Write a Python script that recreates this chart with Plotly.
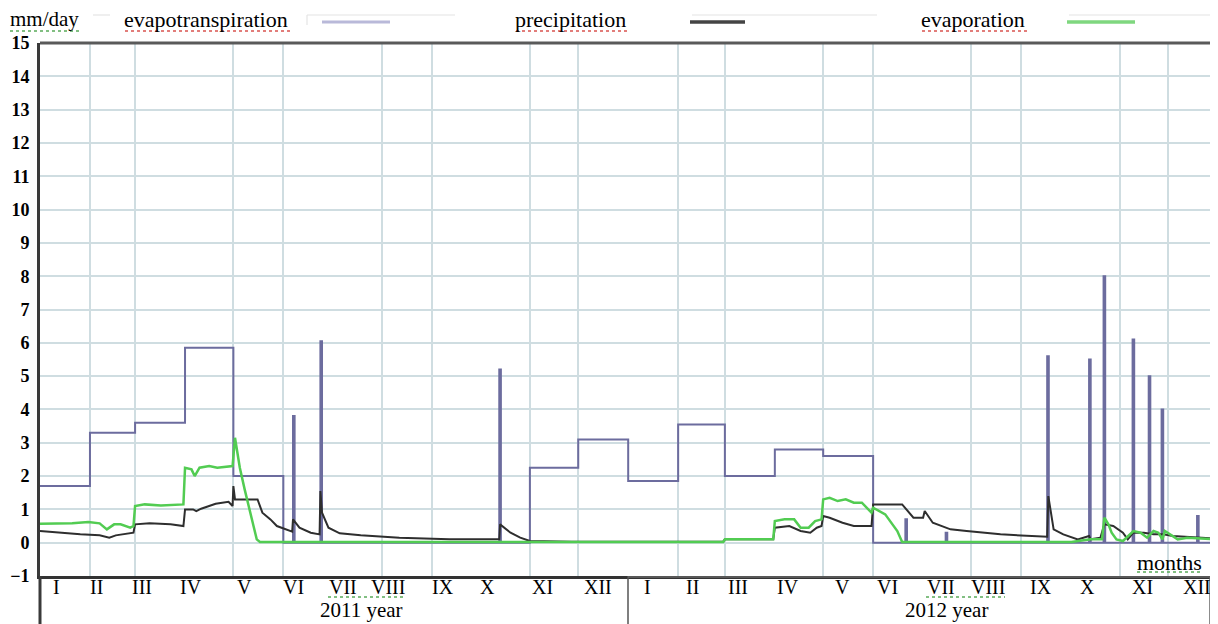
import pandas as pd
import plotly.graph_objects as go

BASE = pd.Timestamp("2011-01-01")

# ---------------- data ----------------
# Evapotranspiration: monthly step values, Jan 2011 .. Dec 2012 (mm/day)
et_monthly = [1.7, 3.3, 3.6, 5.85, 2.0, 0, 0, 0, 0, 0, 2.25, 3.1,
              1.85, 3.55, 2.0, 2.8, 2.6, 0, 0, 0, 0, 0, 0, 0]
# short evapotranspiration events (spikes)
et_spike_dates = ["2011-06-07", "2011-06-24", "2011-10-13", "2012-06-21",
                  "2012-07-16", "2012-09-17", "2012-10-13", "2012-10-22",
                  "2012-11-09", "2012-11-19", "2012-11-27", "2012-12-19"]
et_spike_vals = [3.8, 6.05, 5.2, 0.7, 0.3, 5.6, 5.5, 8.0, 6.1, 5.0, 4.0, 0.8]

# Precipitation (dark line): day since 2011-01-01, mm/day
precip_day = [0, 12, 25, 37, 43, 47, 53, 58, 59, 68, 81, 89, 90, 95, 97, 100,
              109, 117, 119.5, 120, 121, 135, 138, 143, 147, 152, 156.5, 157,
              161, 168, 173.5, 174, 175, 179, 186, 199, 223, 254, 285, 285.5,
              292, 298, 304, 330, 424, 425, 455, 456, 465, 472, 478, 482, 485,
              486, 490, 498, 505, 516, 517, 535, 542, 548, 549, 554, 565, 575,
              596, 625, 625.7, 629, 635, 644, 651, 652, 658, 660.5, 666, 672,
              675, 678.5, 685, 691, 697, 703, 720, 731]
precip_mm = [0.35, 0.3, 0.25, 0.22, 0.15, 0.22, 0.27, 0.3, 0.55, 0.58, 0.55,
             0.5, 1.0, 1.0, 0.95, 1.02, 1.17, 1.23, 1.1, 1.7, 1.3, 1.3, 0.9,
             0.7, 0.5, 0.4, 0.33, 0.7, 0.45, 0.3, 0.25, 1.55, 0.9, 0.45, 0.28,
             0.22, 0.15, 0.1, 0.1, 0.55, 0.3, 0.15, 0.05, 0.03, 0.03, 0.1,
             0.1, 0.45, 0.5, 0.35, 0.3, 0.45, 0.5, 0.8, 0.75, 0.6, 0.5, 0.5,
             1.15, 1.15, 0.75, 0.75, 0.95, 0.6, 0.4, 0.35, 0.25, 0.18, 1.4,
             0.4, 0.25, 0.1, 0.2, 0.1, 0.15, 0.55, 0.5, 0.3, 0.1, 0.3, 0.3,
             0.25, 0.25, 0.2, 0.15, 0.12]

# Evaporation (green line): day since 2011-01-01, mm/day
evap_day = [0, 20, 30, 37, 41.5, 46, 50, 53, 56, 58, 59, 65, 75, 89, 90, 94,
            96, 99, 105, 110, 119.5, 121, 122, 124, 127, 131.5, 134.5, 136.5,
            424, 425, 455, 456, 462, 468, 472, 477, 481, 485, 486, 490, 495,
            500, 505, 510, 514, 516, 517, 524.5, 532, 535, 640, 652, 659,
            660.5, 663, 665, 668, 672, 678.5, 683, 687, 691, 694, 696.5, 698,
            701, 706, 712, 720, 731]
evap_mm = [0.57, 0.58, 0.62, 0.58, 0.4, 0.55, 0.55, 0.5, 0.45, 0.5, 1.1,
           1.15, 1.12, 1.15, 2.25, 2.2, 2.0, 2.25, 2.3, 2.25, 2.3, 3.15, 2.8,
           2.25, 1.6, 0.7, 0.1, 0.02, 0.02, 0.1, 0.1, 0.65, 0.7, 0.7, 0.45,
           0.45, 0.65, 0.7, 1.3, 1.35, 1.25, 1.3, 1.2, 1.2, 1.0, 0.9, 1.05,
           0.85, 0.35, 0.02, 0.02, 0.1, 0.1, 0.75, 0.55, 0.3, 0.1, 0.05, 0.35,
           0.3, 0.15, 0.35, 0.3, 0.1, 0.35, 0.25, 0.1, 0.15, 0.12, 0.1]

y_tick_vals = list(range(-1, 16))
month_names = ["I", "II", "III", "IV", "V", "VI", "VII", "VIII", "IX", "X", "XI", "XII"]
month_label_dates = ["2011-01-11", "2011-02-05", "2011-03-05", "2011-04-05",
                     "2011-05-08", "2011-06-07", "2011-07-08", "2011-08-05",
                     "2011-09-08", "2011-10-06", "2011-11-09", "2011-12-13",
                     "2012-01-13", "2012-02-10", "2012-03-09", "2012-04-09",
                     "2012-05-13", "2012-06-10", "2012-07-13", "2012-08-11",
                     "2012-09-13", "2012-10-12", "2012-11-15", "2012-12-19"]
year_labels = ["2011 year", "2012 year"]

# ---------------- build evapotranspiration step line ----------------
month_starts = pd.date_range("2011-01-01", periods=25, freq="MS")
pts = []
k = 0
for i, v in enumerate(et_monthly):
    pts.append((month_starts[i], v, k)); k += 1
    pts.append((month_starts[i + 1], v, k)); k += 1
one_day = pd.Timedelta(days=1)
for d, h in zip(et_spike_dates, et_spike_vals):
    d = pd.Timestamp(d)
    for x, y in [(d, 0), (d, h), (d + one_day, h), (d + one_day, 0)]:
        pts.append((x, y, k)); k += 1
pts.sort(key=lambda t: (t[0], t[2]))
et_x = [p[0] for p in pts]
et_y = [p[1] for p in pts]

to_date = lambda days: [BASE + pd.Timedelta(days=float(d)) for d in days]

FONT = "Liberation Serif"
fig = go.Figure()
fig.add_trace(go.Scatter(x=et_x, y=et_y, mode="lines", name="evapotranspiration",
                         line=dict(color="#6C6C9E", width=2)))
fig.add_trace(go.Scatter(x=to_date(precip_day), y=precip_mm, mode="lines",
                         name="precipitation", line=dict(color="#2E2E2E", width=2)))
fig.add_trace(go.Scatter(x=to_date(evap_day), y=evap_mm, mode="lines",
                         name="evaporation", line=dict(color="#52CC52", width=2.5)))

# The page body has an 8 px default margin: the figure is sized/offset for it
OFF = 8
GRID = "#CFDDE1"
fig.update_layout(
    width=1218 - OFF, height=624 - OFF,
    margin=dict(l=40 - OFF, r=0, t=43 - OFF, b=48, autoexpand=False),
    paper_bgcolor="white", plot_bgcolor="white",
    showlegend=False,
    font=dict(family=FONT, color="black"),
    xaxis=dict(
        type="date", range=["2011-01-01", "2013-01-01"],
        showticklabels=False, ticks="", showgrid=False, zeroline=False,
        showline=True, linewidth=2.5, linecolor="#333333",
        minor=dict(dtick="M1", tick0="2011-01-01", showgrid=True,
                   gridcolor=GRID, gridwidth=1.5, ticks=""),
    ),
    yaxis=dict(
        range=[-1, 15], tickvals=y_tick_vals, ticks="",
        showgrid=True, gridcolor=GRID, gridwidth=1.5, zeroline=False,
        tickfont=dict(family=FONT, size=18, color="black", weight="bold"),
        ticklabelstandoff=4,
        showline=True, linewidth=3, linecolor="#3A3A3A",
    ),
)

# helpers: page pixel -> paper coordinates
def px(x):
    return (x - 40) / 1178.0

def py(y):
    return (576 - y) / 533.0

shapes = []
def seg(x0, y0, x1, y1, color, width, dash="solid"):
    shapes.append(dict(type="line", xref="paper", yref="paper",
                       x0=px(x0), y0=py(y0), x1=px(x1), y1=py(y1),
                       line=dict(color=color, width=width, dash=dash)))

# frame
seg(40, 43, 1218, 43, "#5A5A5A", 3)
seg(40, 576, 40, 624, "#3A3A3A", 3)
seg(628, 576, 628, 624, "#555555", 1.5)
seg(628, 577, 1210, 577, "#666666", 1.5)
seg(1210, 577, 1210, 624, "#666666", 1.5)
# faint legend frame fragments
for a, b in [(93, 110), (307, 455), (692, 877), (1069, 1218)]:
    seg(a, 15, b, 15, "#E4E4E4", 1.2)
seg(307, 15, 307, 25, "#E4E4E4", 1.2)
# legend samples
seg(322, 22, 390, 22, "#B9B9D9", 3)
seg(690, 22, 745, 22, "#444444", 3.5)
seg(1067, 22, 1135, 22, "#7FD77F", 3.5)
# spell-check wavy underlines
RED, GREEN = "#D9534F", "#5AAA5A"
seg(10, 31, 82, 31, GREEN, 1.5, "dot")
seg(125, 31, 290, 31, RED, 1.5, "dot")
seg(516, 31, 630, 31, RED, 1.5, "dot")
seg(922, 31, 1028, 31, RED, 1.5, "dot")
seg(328, 597, 405, 597, GREEN, 1.5, "dot")
seg(926, 597, 1005, 597, GREEN, 1.5, "dot")
seg(1137, 572, 1203, 572, GREEN, 1.5, "dot")
fig.update_layout(shapes=shapes)

annots = []
def label(text, x, y, size=22, xanchor="left"):
    annots.append(dict(text=text, xref="paper", yref="paper", x=px(x), y=py(y),
                       xanchor=xanchor, yanchor="middle", showarrow=False,
                       font=dict(family=FONT, size=size, color="black")))

label("mm/day", 8, 19, size=21)
label("evapotranspiration", 122, 19)
label("precipitation", 513, 19)
label("evaporation", 919, 19)
label("months", 1135, 562)
label(year_labels[0], 361, 610, size=21, xanchor="center")
label(year_labels[1], 946, 610, size=21, xanchor="center")

# month labels placed on the date axis
for d, name in zip(month_label_dates, month_names * 2):
    annots.append(dict(text=name, xref="x", yref="paper", x=d, y=py(587),
                       xanchor="center", yanchor="middle", showarrow=False,
                       font=dict(family=FONT, size=20, color="black")))
fig.update_layout(annotations=annots)

fig.write_html("out.html")
